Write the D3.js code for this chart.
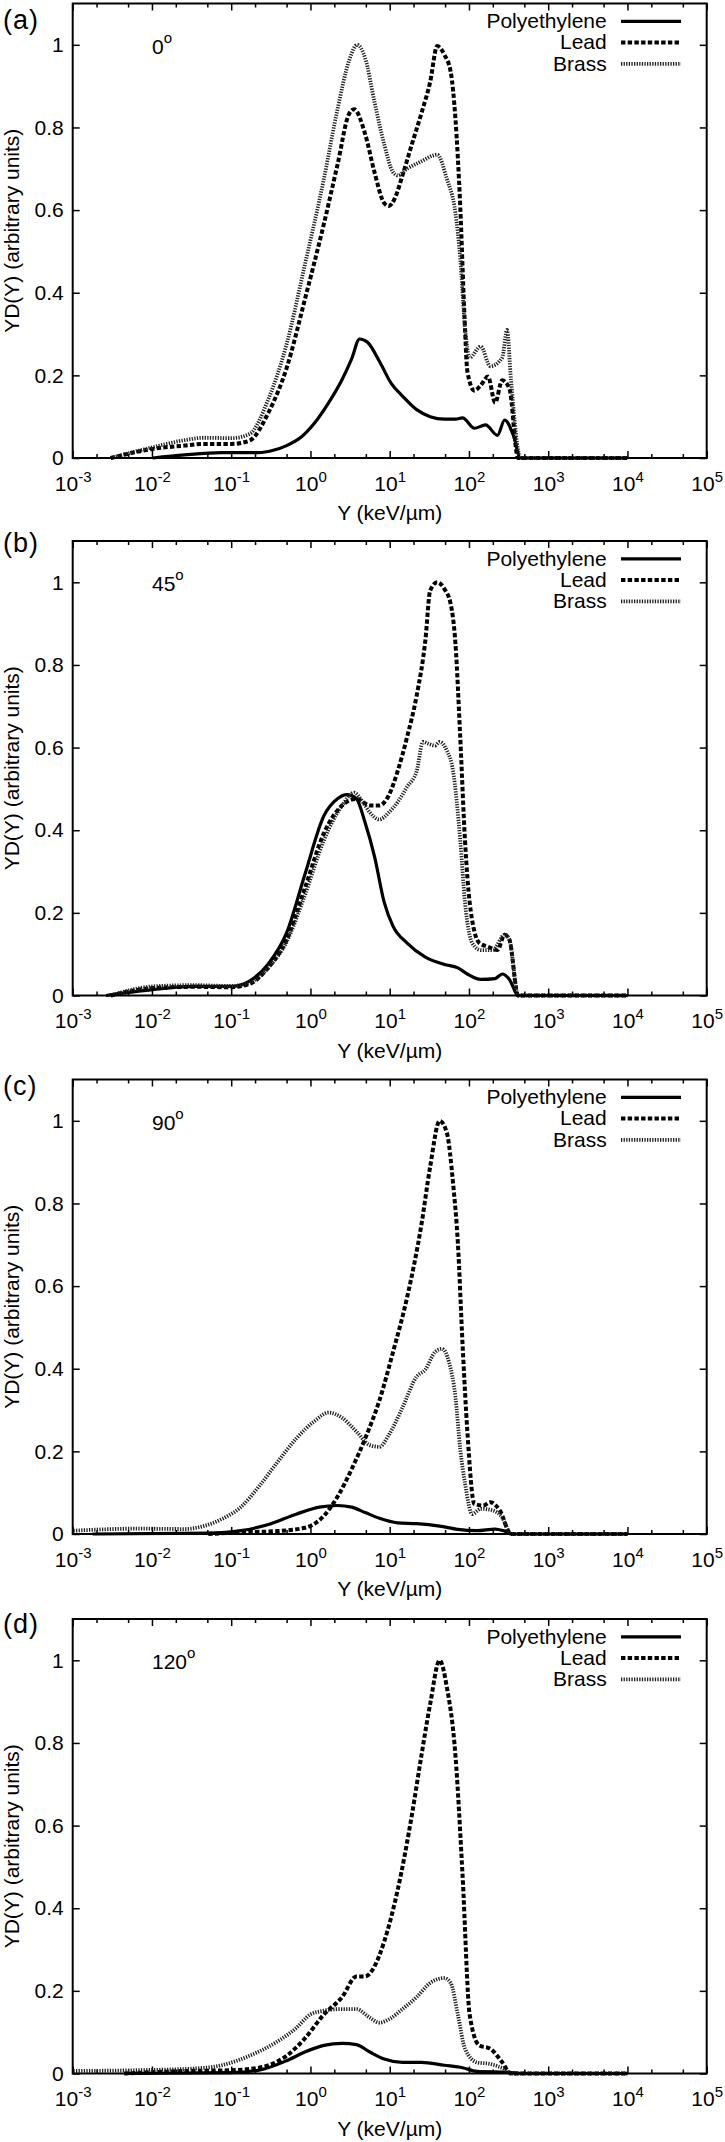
<!DOCTYPE html>
<html><head><meta charset="utf-8">
<script src="https://cdn.jsdelivr.net/npm/d3@7"></script>
<style>
body{margin:0;background:#fff}
svg{display:block}
text{font-family:"Liberation Sans",Arial,Helvetica,sans-serif;fill:#000}
</style>
</head><body>
<svg id="chart" width="725" height="2142"></svg>
<script>
// ---------------- data ----------------
const panelLabels = ["(a)", "(b)", "(c)", "(d)"];
const angleLabels = ["0", "45", "90", "120"];
const seriesNames = ["Polyethylene", "Lead", "Brass"];
const xTickValues = [1e-3, 1e-2, 1e-1, 1e0, 1e1, 1e2, 1e3, 1e4, 1e5];
const xTickExponents = ["-3", "-2", "-1", "0", "1", "2", "3", "4", "5"];
const xMinorTicks = [2e-3, 5e-3, 2e-2, 5e-2, 2e-1, 5e-1, 2, 5, 20, 50, 200, 500, 2e3, 5e3, 2e4, 5e4];
const yTickValues = [0, 0.2, 0.4, 0.6, 0.8, 1];
const yTickLabels = ["0", "0.2", "0.4", "0.6", "0.8", "1"];
const xTitle = "Y (keV/\u00b5m)";
const yTitle = "YD(Y) (arbitrary units)";

// [Y (keV/um), YD(Y)]
// 0 degrees
const polyethylene0 = [[0.0102,0],[0.0257,0.0075],[0.0759,0.013],[0.224,0.013],[0.331,0.018],[0.501,0.03],[0.759,0.05],[1.12,0.084],[1.70,0.134],[2.51,0.19],[3.31,0.24],[4.17,0.288],[5.25,0.28],[7.41,0.234],[10.5,0.18],[14.5,0.15],[21.9,0.117],[32.4,0.10],[49.0,0.094],[67.6,0.094],[83.2,0.097],[117,0.072],[162,0.08],[229,0.055],[282,0.092],[363,0.055],[447,0],[10000,0]];
const lead0 = [[0.00302,0],[0.0102,0.022],[0.0257,0.03],[0.0447,0.034],[0.1,0.034],[0.17,0.042],[0.295,0.11],[0.501,0.218],[0.851,0.384],[1.48,0.567],[2.19,0.709],[3.09,0.834],[3.55,0.844],[4.90,0.784],[6.46,0.69],[8.51,0.617],[9.77,0.61],[11.7,0.63],[14.5,0.684],[19.1,0.76],[25.1,0.834],[32.4,0.91],[39.8,0.997],[49.0,0.976],[58.9,0.934],[67.6,0.82],[77.6,0.61],[87.1,0.36],[95.5,0.21],[117,0.163],[141,0.176],[174,0.197],[214,0.134],[263,0.188],[324,0.168],[417,0],[10000,0]];
const brass0 = [[0.00302,0],[0.0102,0.026],[0.0257,0.043],[0.0447,0.049],[0.1,0.048],[0.17,0.058],[0.295,0.143],[0.501,0.276],[0.851,0.468],[1.48,0.676],[2.19,0.843],[3.09,0.963],[3.89,1.0],[4.90,0.968],[6.46,0.86],[8.51,0.76],[11.0,0.692],[12.6,0.684],[16.6,0.70],[25.1,0.718],[39.8,0.734],[52.5,0.676],[67.6,0.592],[77.6,0.484],[89.1,0.318],[102,0.243],[141,0.27],[186,0.222],[263,0.243],[302,0.31],[339,0.19],[447,0],[10000,0]];
// 45 degrees
const polyethylene45 = [[0.00263,0],[0.0102,0.014],[0.0339,0.022],[0.1,0.022],[0.17,0.035],[0.295,0.077],[0.501,0.152],[0.851,0.293],[1.48,0.435],[2.19,0.476],[2.88,0.486],[3.80,0.476],[4.90,0.418],[6.46,0.335],[8.51,0.226],[11.0,0.168],[16.6,0.127],[28.2,0.093],[49.0,0.075],[72.4,0.067],[95.5,0.052],[141,0.039],[214,0.041],[263,0.052],[324,0.039],[417,0],[10000,0]];
const lead45 = [[0.00302,0],[0.0102,0.018],[0.0339,0.021],[0.1,0.02],[0.17,0.028],[0.295,0.068],[0.501,0.135],[0.851,0.26],[1.48,0.393],[2.51,0.46],[3.80,0.476],[5.62,0.46],[7.41,0.46],[9.77,0.485],[12.6,0.543],[16.6,0.626],[21.9,0.726],[28.2,0.86],[32.4,0.98],[39.8,1.0],[49.0,0.984],[58.9,0.947],[67.6,0.851],[77.6,0.626],[89.1,0.376],[102,0.226],[135,0.127],[174,0.118],[229,0.11],[282,0.147],[324,0.135],[417,0],[10000,0]];
const brass45 = [[0.00302,0],[0.0102,0.022],[0.0339,0.025],[0.1,0.023],[0.17,0.031],[0.295,0.068],[0.501,0.13],[0.851,0.243],[1.48,0.376],[2.51,0.46],[3.55,0.491],[4.57,0.468],[5.62,0.443],[7.41,0.426],[9.77,0.443],[12.6,0.468],[16.6,0.505],[21.9,0.543],[26.3,0.614],[30.2,0.61],[37.2,0.605],[42.7,0.614],[52.5,0.593],[63.1,0.543],[77.6,0.376],[89.1,0.226],[110,0.127],[141,0.11],[200,0.11],[282,0.147],[324,0.135],[417,0],[10000,0]];
// 90 degrees
const polyethylene90 = [[0.00178,0],[0.0513,0.002],[0.132,0.008],[0.295,0.023],[0.661,0.048],[1.29,0.065],[2.19,0.069],[3.31,0.065],[4.90,0.052],[7.41,0.038],[12.6,0.027],[21.9,0.025],[42.7,0.019],[72.4,0.011],[126,0.008],[214,0.012],[282,0.007],[363,0],[10000,0]];
const lead90 = [[0.0513,0],[0.132,0.004],[0.38,0.007],[0.851,0.015],[1.48,0.044],[2.19,0.09],[3.31,0.157],[4.90,0.231],[7.41,0.323],[11.0,0.44],[16.6,0.573],[25.1,0.748],[32.4,0.889],[42.7,1.0],[52.5,0.972],[63.1,0.848],[72.4,0.706],[83.2,0.456],[95.5,0.248],[117,0.073],[151,0.069],[186,0.077],[245,0.057],[339,0],[10000,0]];
const brass90 = [[0.00102,0.008],[0.00676,0.013],[0.0257,0.012],[0.0447,0.019],[0.0759,0.036],[0.132,0.065],[0.224,0.115],[0.38,0.173],[0.661,0.231],[1.12,0.273],[1.70,0.294],[2.51,0.281],[3.80,0.248],[5.62,0.215],[7.41,0.211],[9.77,0.24],[14.5,0.306],[21.9,0.381],[28.2,0.398],[37.2,0.44],[45.7,0.448],[56.2,0.415],[67.6,0.331],[77.6,0.206],[89.1,0.123],[110,0.048],[141,0.061],[200,0.057],[263,0.04],[339,0],[10000,0]];
// 120 degrees
const polyethylene120 = [[0.00447,0],[0.1,0.002],[0.224,0.008],[0.501,0.031],[0.851,0.052],[1.48,0.068],[2.51,0.073],[3.80,0.07],[5.62,0.052],[8.51,0.035],[14.5,0.027],[25.1,0.027],[49.0,0.02],[83.2,0.014],[126,0.005],[324,0.003],[447,0],[10000,0]];
const lead120 = [[0.00447,0],[0.0257,0.006],[0.1,0.008],[0.224,0.014],[0.501,0.043],[0.851,0.085],[1.48,0.143],[2.51,0.185],[3.80,0.235],[4.90,0.235],[6.46,0.26],[8.51,0.319],[12.6,0.444],[19.1,0.627],[25.1,0.769],[32.4,0.894],[42.7,1.0],[52.5,0.936],[67.6,0.769],[83.2,0.477],[102,0.143],[135,0.068],[186,0.06],[263,0.027],[339,0],[10000,0]];
const brass120 = [[0.00102,0.006],[0.00676,0.008],[0.0339,0.012],[0.0759,0.02],[0.17,0.043],[0.38,0.077],[0.661,0.11],[1.0,0.143],[1.48,0.152],[2.51,0.156],[3.80,0.156],[5.62,0.135],[7.41,0.123],[9.77,0.131],[14.5,0.156],[21.9,0.185],[32.4,0.219],[49.0,0.231],[58.9,0.219],[72.4,0.143],[89.1,0.06],[126,0.027],[186,0.023],[282,0.01],[339,0],[10000,0]];

const panelSeries = [
  [polyethylene0, lead0, brass0],
  [polyethylene45, lead45, brass45],
  [polyethylene90, lead90, brass90],
  [polyethylene120, lead120, brass120]
];

// ---------------- layout & style ----------------
const panelTops = [3.5, 541, 1079.5, 1619];
const panelLabelY = [29, 552, 1095, 1633];
const plotLeft = 72.7, plotRight = 706.7, plotH = 454.5;
const FONT = 21, SUP = 15;
const styles = [
  {stroke: "#000", width: 3.2, dash: null},
  {stroke: "#000", width: 4, dash: "4.4,2.3"},
  {stroke: "#222", width: 3.8, dash: "1.3,1.3"}
];

const svg = d3.select("#chart");
const x = d3.scaleLog().domain([1e-3, 1e5]).range([plotLeft, plotRight]);
const y = d3.scaleLinear().domain([0, 1.1]).range([plotH, 0]);
const line = d3.line().x(d => x(d[0])).y(d => y(d[1])).curve(d3.curveMonotoneX);

panelTops.forEach((top, p) => {
  const g = svg.append("g").attr("transform", `translate(0,${top})`);

  const styleAxis = sel => {
    sel.select(".domain").remove();
    sel.selectAll(".tick line").attr("stroke", "#000").attr("stroke-width", 1.5);
    sel.attr("font-family", null).attr("font-size", null);
  };
  const bottom = g.append("g").attr("transform", `translate(0,${plotH})`)
    .call(d3.axisBottom(x).tickValues(xTickValues).tickSize(-7).tickPadding(18).tickFormat(() => "10"));
  styleAxis(bottom);
  bottom.selectAll(".tick text")
    .style("font-size", FONT + "px")
    .attr("text-anchor", "middle")
    .each(function(d, i) {
      d3.select(this).append("tspan").attr("dy", -9).style("font-size", SUP + "px").text(xTickExponents[i]);
    });
  g.append("g").attr("transform", `translate(0,${plotH})`)
    .call(d3.axisBottom(x).tickValues(xMinorTicks).tickSize(-4).tickFormat("")).call(styleAxis);
  g.append("g").call(d3.axisTop(x).tickValues(xTickValues).tickSize(-7).tickFormat("")).call(styleAxis);
  g.append("g").call(d3.axisTop(x).tickValues(xMinorTicks).tickSize(-4).tickFormat("")).call(styleAxis);
  const left = g.append("g").attr("transform", `translate(${plotLeft},0)`)
    .call(d3.axisLeft(y).tickValues(yTickValues).tickSize(-7).tickPadding(9).tickFormat((d, i) => yTickLabels[i]));
  styleAxis(left);
  left.selectAll(".tick text").style("font-size", FONT + "px");
  g.append("g").attr("transform", `translate(${plotRight},0)`)
    .call(d3.axisRight(y).tickValues(yTickValues).tickSize(-7).tickFormat("")).call(styleAxis);

  panelSeries[p].forEach((data, s) => {
    const st = styles[s];
    g.append("path").datum(data)
      .attr("d", line)
      .attr("fill", "none")
      .attr("stroke", st.stroke)
      .attr("stroke-width", st.width)
      .attr("stroke-dasharray", st.dash)
      .attr("stroke-linejoin", "round");
  });

  g.append("rect").attr("x", plotLeft).attr("y", 0)
    .attr("width", plotRight - plotLeft).attr("height", plotH)
    .attr("fill", "none").attr("stroke", "#000").attr("stroke-width", 2);

  seriesNames.forEach((name, s) => {
    const ly = 17.8 + 21.3 * s;
    const st = styles[s];
    g.append("text").attr("x", 606.7).attr("y", ly + 6.8)
      .attr("text-anchor", "end").style("font-size", FONT + "px").text(name);
    g.append("line").attr("x1", 621).attr("x2", 681).attr("y1", ly).attr("y2", ly)
      .attr("stroke", st.stroke).attr("stroke-width", st.width)
      .attr("stroke-dasharray", st.dash);
  });

  const at = g.append("text").attr("x", 152).attr("y", 50).style("font-size", FONT + "px");
  at.append("tspan").text(angleLabels[p]);
  at.append("tspan").attr("dy", -11).style("font-size", SUP + "px").text("o");

  g.append("text").attr("x", (plotLeft + plotRight) / 2).attr("y", plotH + 62)
    .attr("text-anchor", "middle").style("font-size", FONT + "px").text(xTitle);
  g.append("text").attr("transform", `translate(18.5,${plotH / 2}) rotate(-90)`)
    .attr("text-anchor", "middle").style("font-size", FONT + "px").text(yTitle);

  svg.append("text").attr("x", 3).attr("y", panelLabelY[p])
    .style("font-size", "27px").style("letter-spacing", "1px").text(panelLabels[p]);
});
</script>
</body></html>
